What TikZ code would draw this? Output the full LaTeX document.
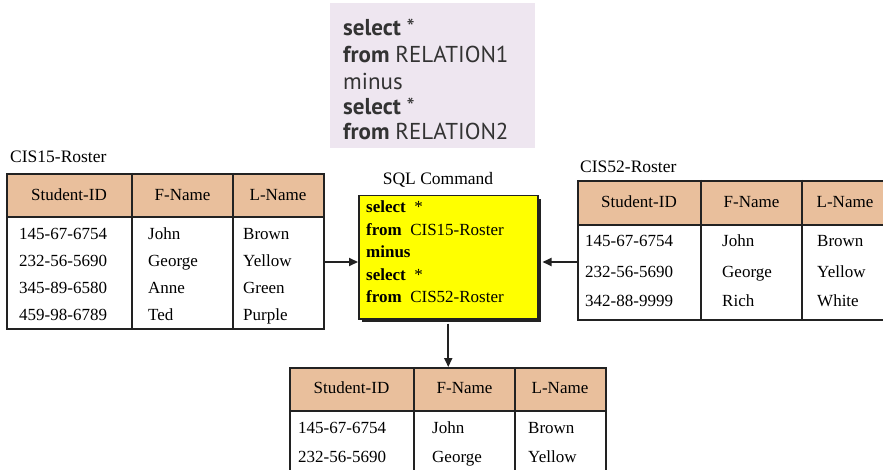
\documentclass[tikz,border=0pt]{standalone}
\usepackage{fontspec}
\setmainfont{Liberation Serif}
\newfontfamily\sqlsans{PT Sans}
\usetikzlibrary{arrows.meta,calc}
\definecolor{headtan}{HTML}{E9BF9C}
\definecolor{lav}{HTML}{EEE6F0}
\definecolor{sqlyellow}{HTML}{FFFF00}
\definecolor{edge}{HTML}{222222}
\begin{document}
\begin{tikzpicture}[x=1pt,y=-1pt,
  hdrbox/.style={fill=headtan, draw=edge, line width=2pt, anchor=north west, inner sep=0},
  bodybox/.style={fill=white, draw=edge, line width=2pt, anchor=north west, inner sep=0},
  colline/.style={draw=edge, line width=2pt},
  htext/.style={font=\fontsize{17}{19}\selectfont, inner sep=0, text height=1em, text depth=0em},
  dtext/.style={font=\fontsize{17}{19}\selectfont, anchor=west, inner sep=0, text height=1em, text depth=0em},
  lbl/.style={font=\fontsize{17.5}{19}\selectfont, inner sep=0, text height=1em, text depth=0em},
  sqltext/.style={font=\fontsize{17}{19}\selectfont, anchor=west, inner sep=0, text height=1em, text depth=0em},
  toptext/.style={font=\sqlsans\fontsize{23}{25}\selectfont, anchor=west, inner sep=0, text height=1em, text depth=0em, text=black!80},
  arr/.style={draw=edge, line width=2pt, -{Triangle[length=9pt,width=8pt]}}
]
\clip (0,0) rectangle (883,470);
\fill[white] (0,0) rectangle (883,470);

% top example box
\node[fill=lav, anchor=north west, minimum width=205, minimum height=145, inner sep=0] (ex) at (330,3) {};
\node[toptext] (e1) at (343,31) {\bfseries select \mdseries *};
\node[toptext] (e2) at (343,58) {\bfseries from \mdseries RELATION1};
\node[toptext] (e3) at (343,85) {minus};
\node[toptext] (e4) at (343,110) {\bfseries select \mdseries *};
\node[toptext] (e5) at (343,135) {\bfseries from \mdseries RELATION2};

% table 1 CIS15-Roster
\node[lbl, anchor=west] (l1) at (10,158) {CIS15-Roster};
\node[hdrbox, minimum width=317, minimum height=43] (t1h) at (6,173) {};
\node[bodybox, minimum width=317, minimum height=112] (t1b) at (6,216) {};
\draw[colline] (132,173) -- (132,328) (233,173) -- (233,328);
\node[htext] (t1h1) at (69,196) {Student-ID};
\node[htext] (t1h2) at (182.5,196) {F-Name};
\node[htext] (t1h3) at (278,196) {L-Name};
\foreach \y/\a/\b/\c [count=\i] in {235/145-67-6754/John/Brown, 262/232-56-5690/George/Yellow, 289/345-89-6580/Anne/Green, 315/459-98-6789/Ted/Purple}{
  \node[dtext] (t1a\i) at (19,\y) {\a};
  \node[dtext] (t1b\i) at (148,\y) {\b};
  \node[dtext] (t1c\i) at (243,\y) {\c};
}

% table 2 CIS52-Roster
\node[lbl, anchor=west] (l2) at (580,168) {CIS52-Roster};
\node[hdrbox, minimum width=310, minimum height=44] (t2h) at (577,180) {};
\node[bodybox, minimum width=310, minimum height=95] (t2b) at (577,224) {};
\draw[colline] (701,180) -- (701,319) (802,180) -- (802,319);
\node[htext] (t2h1) at (639,203) {Student-ID};
\node[htext] (t2h2) at (751.5,203) {F-Name};
\node[htext] (t2h3) at (845,203) {L-Name};
\foreach \y/\a/\b/\c [count=\i] in {242/145-67-6754/John/Brown, 272/232-56-5690/George/Yellow, 301/342-88-9999/Rich/White}{
  \node[dtext] (t2a\i) at (585,\y) {\a};
  \node[dtext] (t2b\i) at (722,\y) {\b};
  \node[dtext] (t2c\i) at (817,\y) {\c};
}

% table 3 result
\node[hdrbox, minimum width=316, minimum height=43] (t3h) at (289,367) {};
\node[bodybox, minimum width=316, minimum height=70] (t3b) at (289,410) {};
\draw[colline] (414,367) -- (414,480) (515,367) -- (515,480);
\node[htext] (t3h1) at (351.5,388) {Student-ID};
\node[htext] (t3h2) at (464.5,388) {F-Name};
\node[htext] (t3h3) at (560,388) {L-Name};
\foreach \y/\a/\b/\c [count=\i] in {428/145-67-6754/John/Brown, 457/232-56-5690/George/Yellow}{
  \node[dtext] (t3a\i) at (298,\y) {\a};
  \node[dtext] (t3b\i) at (432,\y) {\b};
  \node[dtext] (t3c\i) at (528,\y) {\c};
}

% SQL command box
\node[lbl] (sqll) at (438,180) {SQL Command};
\fill[edge] (362,199) rectangle (541,322);
\node[fill=sqlyellow, draw=edge, line width=1.5pt, anchor=north west, minimum width=179, minimum height=123, inner sep=0] (sql) at (358,195) {};
\node[sqltext] (s1) at (366,208) {\bfseries select\ \ \mdseries *};
\node[sqltext] (s2) at (366,231) {\bfseries from\ \ \mdseries CIS15-Roster};
\node[sqltext] (s3) at (366,253) {\bfseries minus};
\node[sqltext] (s4) at (366,275) {\bfseries select\ \ \mdseries *};
\node[sqltext] (s5) at (366,297) {\bfseries from\ \ \mdseries CIS52-Roster};

% connectors
\coordinate (ay) at (0,262);
\draw[arr] (t1b.east |- ay) -- (sql.west |- ay);
\draw[arr] (t2b.west |- ay) -- ($(sql.east |- ay)+(4,0)$);
\draw[arr] ($(sql.south)+(0,4)$) -- (t3h.north -| sql.south);
\end{tikzpicture}
\end{document}
